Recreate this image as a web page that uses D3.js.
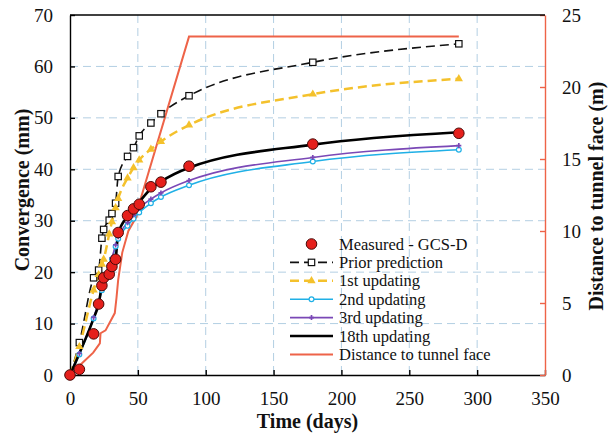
<!DOCTYPE html>
<html>
<head>
<meta charset="utf-8">
<script src="https://cdn.jsdelivr.net/npm/d3@7"></script>
<style>
    body { margin: 0; background: #fff; }
    svg text { font-family: "Liberation Serif", "Times New Roman", serif; fill: #111; }
</style>
</head>
<body>
<svg width="608" height="443"></svg>
<script>
// time of each reading (days)
let days = [0, 6.9, 17.4, 21.1, 23.5, 24.8, 28.9, 30.9, 33.6, 35.5, 42.4, 46.8, 51, 59.6, 67, 87.7, 178.9, 286.5];
// convergence (mm)
let measured = [0, 1.1, 8.0, 13.8, 17.4, 18.9, 19.6, 21.1, 22.5, 27.7, 31.0, 32.3, 33.2, 36.6, 37.5, 40.6, 44.9, 47.0];
let prior    = [0, 6.3, 18.9, 20.4, 26.6, 28.3, 30.1, 31.4, 33.4, 38.6, 42.5, 44.2, 46.5, 49.0, 50.8, 54.3, 60.8, 64.4];
let upd1     = [0, 5.5, 16.5, 19.5, 21.5, 22.5, 27.4, 29.8, 32.5, 34.3, 38.3, 40.3, 41.8, 43.9, 45.4, 48.6, 54.6, 57.6];
let upd2     = [0, 4.0, 11.0, 14.0, 16.5, 18.0, 21.0, 22.5, 25.0, 26.5, 29.0, 30.4, 31.6, 33.4, 34.6, 36.9, 41.5, 43.8];
let upd3     = [0, 4.2, 11.2, 14.2, 16.8, 18.3, 21.3, 22.8, 25.3, 26.9, 29.6, 31.1, 32.4, 34.2, 35.4, 37.8, 42.3, 44.6];
let upd18    = [0, 4.2, 11.0, 13.8, 17.4, 18.9, 19.8, 21.2, 22.6, 27.5, 30.8, 32.2, 33.6, 36.2, 37.6, 40.3, 44.8, 47.2];
// distance to tunnel face (m), right axis
let faceDays = [0, 9.8, 17.1, 22, 22.5, 26.2, 33, 34.3, 35.5, 38.5, 43, 49, 51, 87.7, 286.5];
let faceDist = [0, 0.9, 1.55, 2.2, 2.9, 3.1, 4.3, 5.4, 6.6, 8.5, 10.0, 11.0, 11.9, 23.5, 23.5];

let xTicks = [0, 50, 100, 150, 200, 250, 300, 350];
let yTicks = [0, 10, 20, 30, 40, 50, 60, 70];
let y2Ticks = [0, 5, 10, 15, 20, 25];
let seriesNames = ["Measured - GCS-D", "Prior prediction", "1st updating", "2nd updating",
    "3rd updating", "18th updating", "Distance to tunnel face"];

let svg = d3.select("svg"),
    plotL = 70, plotR = 545, plotT = 15, plotB = 375;

let red = "#ee6348", yellow = "#f4c12c", cyan = "#20b0e6", purple = "#7a48b6", grid = "#b3cfe3";

let x = d3.scaleLinear().domain([0, 350]).range([plotL, plotR]),
    y = d3.scaleLinear().domain([0, 70]).range([plotB, plotT]),
    y2 = d3.scaleLinear().domain([0, 25]).range([plotB, plotT]);

// gridlines
svg.append("g").selectAll("line")
    .data(xTicks.slice(1, -1))
    .enter().append("line")
    .attr("x1", d => x(d)).attr("x2", d => x(d))
    .attr("y1", plotT).attr("y2", plotB)
    .attr("stroke", grid).attr("stroke-dasharray", "8,5");
svg.append("g").selectAll("line")
    .data(yTicks.slice(1, -1))
    .enter().append("line")
    .attr("x1", plotL).attr("x2", plotR)
    .attr("y1", d => y(d)).attr("y2", d => y(d))
    .attr("stroke", grid).attr("stroke-dasharray", "8,5");

// axes
let xAxis = svg.append("g")
    .attr("transform", "translate(0," + plotB + ")")
    .call(d3.axisBottom(x).tickValues(xTicks).tickSizeInner(-5).tickSizeOuter(0).tickPadding(17));
let yAxis = svg.append("g")
    .attr("transform", "translate(" + plotL + ",0)")
    .call(d3.axisLeft(y).tickValues(yTicks).tickSizeInner(-5).tickSizeOuter(0).tickPadding(17));
let y2Axis = svg.append("g")
    .attr("transform", "translate(" + plotR + ",0)")
    .call(d3.axisRight(y2).tickValues(y2Ticks).tickSizeInner(-5).tickSizeOuter(0).tickPadding(17));

[xAxis, yAxis, y2Axis].forEach(a => {
    a.selectAll("text").style("font-size", "19px").attr("fill", "#111");
    a.select(".domain").attr("stroke-width", 1.4);
    a.selectAll(".tick line").attr("stroke-width", 1.4);
});
xAxis.selectAll(".domain, .tick line").attr("stroke", "#000");
yAxis.selectAll(".domain, .tick line").attr("stroke", "#000");
y2Axis.selectAll(".domain, .tick line").attr("stroke", red);

svg.append("line")
    .attr("x1", plotL).attr("x2", plotR).attr("y1", plotT).attr("y2", plotT)
    .attr("stroke", "#000").attr("stroke-width", 1.4);

// axis titles
svg.append("text")
    .attr("x", (plotL + plotR) / 2).attr("y", 428)
    .attr("text-anchor", "middle")
    .style("font-size", "20px").style("font-weight", "bold")
    .text("Time (days)");
svg.append("text")
    .attr("transform", "translate(29,190) rotate(-90)")
    .attr("text-anchor", "middle")
    .style("font-size", "20px").style("font-weight", "bold")
    .text("Convergence (mm)");
svg.append("text")
    .attr("transform", "translate(603,196) rotate(-90)")
    .attr("text-anchor", "middle")
    .style("font-size", "20px").style("font-weight", "bold")
    .text("Distance to tunnel face (m)");

// lines
let smooth = d3.line().x(d => x(d[0])).y(d => y(d[1])).curve(d3.curveMonotoneX);
let straight = d3.line().x(d => x(d[0])).y(d => y2(d[1]));

let pairs = vals => days.map((d, i) => [d, vals[i]]);

svg.append("path")
    .datum(faceDays.map((d, i) => [d, faceDist[i]]))
    .attr("d", straight)
    .attr("fill", "none").attr("stroke", red).attr("stroke-width", 2);

svg.append("path").datum(pairs(prior)).attr("d", smooth)
    .attr("fill", "none").attr("stroke", "#111").attr("stroke-width", 1.6).attr("stroke-dasharray", "9,5");
svg.append("path").datum(pairs(upd1)).attr("d", smooth)
    .attr("fill", "none").attr("stroke", yellow).attr("stroke-width", 2.5).attr("stroke-dasharray", "9,5");
svg.append("path").datum(pairs(upd2)).attr("d", smooth)
    .attr("fill", "none").attr("stroke", cyan).attr("stroke-width", 1.6);
svg.append("path").datum(pairs(upd3)).attr("d", smooth)
    .attr("fill", "none").attr("stroke", purple).attr("stroke-width", 1.6);
svg.append("path").datum(pairs(upd18)).attr("d", smooth)
    .attr("fill", "none").attr("stroke", "#000").attr("stroke-width", 2.6);

// markers
function squares(g, data) {
    g.selectAll(null).data(data).enter().append("rect")
        .attr("x", d => x(d[0]) - 3.2).attr("y", d => y(d[1]) - 3.2)
        .attr("width", 6.4).attr("height", 6.4)
        .attr("fill", "#fff").attr("stroke", "#111").attr("stroke-width", 1.2);
}
function triangles(g, data) {
    g.selectAll(null).data(data).enter().append("path")
        .attr("transform", d => "translate(" + x(d[0]) + "," + y(d[1]) + ")")
        .attr("d", d3.symbol(d3.symbolTriangle, 30))
        .attr("fill", yellow);
}
function rings(g, data) {
    g.selectAll(null).data(data).enter().append("circle")
        .attr("cx", d => x(d[0])).attr("cy", d => y(d[1])).attr("r", 2.4)
        .attr("fill", "#fff").attr("stroke", cyan).attr("stroke-width", 1.2);
}
function crosses(g, data) {
    g.selectAll(null).data(data).enter().append("path")
        .attr("transform", d => "translate(" + x(d[0]) + "," + y(d[1]) + ")")
        .attr("d", d3.symbol(d3.symbolCross, 14))
        .attr("fill", purple);
}
function dots(g, data) {
    g.selectAll(null).data(data).enter().append("circle")
        .attr("cx", d => x(d[0])).attr("cy", d => y(d[1])).attr("r", 5.3)
        .attr("fill", "#e5201c").attr("stroke", "#4a0a08").attr("stroke-width", 1);
}

let marks = svg.append("g");
squares(marks.append("g"), pairs(prior));
triangles(marks.append("g"), pairs(upd1));
rings(marks.append("g"), pairs(upd2));
crosses(marks.append("g"), pairs(upd3));
dots(marks.append("g"), pairs(measured));

// legend
let legend = svg.append("g");
let lx0 = 290, lx1 = 333, lxm = 311.5, ly = 244, lstep = 18.4;
seriesNames.forEach((name, i) => {
    let row = legend.append("g").attr("transform", "translate(0," + (ly + i * lstep) + ")");
    row.append("text").attr("x", 339).attr("y", 5.5).style("font-size", "16.5px").text(name);
    let line = row.append("line").attr("x1", lx0).attr("x2", lx1).attr("y1", 0).attr("y2", 0);
    if (i === 0) {
        line.remove();
        row.append("circle").attr("cx", lxm).attr("cy", 0).attr("r", 5.3)
            .attr("fill", "#e5201c").attr("stroke", "#4a0a08");
    } else if (i === 1) {
        line.attr("stroke", "#111").attr("stroke-width", 1.6).attr("stroke-dasharray", "9,5");
        row.append("rect").attr("x", lxm - 3.2).attr("y", -3.2).attr("width", 6.4).attr("height", 6.4)
            .attr("fill", "#fff").attr("stroke", "#111").attr("stroke-width", 1.2);
    } else if (i === 2) {
        line.attr("stroke", yellow).attr("stroke-width", 2.5).attr("stroke-dasharray", "9,5");
        row.append("path").attr("transform", "translate(" + lxm + ",0)")
            .attr("d", d3.symbol(d3.symbolTriangle, 30)).attr("fill", yellow);
    } else if (i === 3) {
        line.attr("stroke", cyan).attr("stroke-width", 1.6);
        row.append("circle").attr("cx", lxm).attr("cy", 0).attr("r", 2.4)
            .attr("fill", "#fff").attr("stroke", cyan).attr("stroke-width", 1.2);
    } else if (i === 4) {
        line.attr("stroke", purple).attr("stroke-width", 1.6);
        row.append("path").attr("transform", "translate(" + lxm + ",0)")
            .attr("d", d3.symbol(d3.symbolCross, 14)).attr("fill", purple);
    } else if (i === 5) {
        line.attr("stroke", "#000").attr("stroke-width", 2.6);
    } else {
        line.attr("stroke", red).attr("stroke-width", 2);
    }
});
</script>
</body>
</html>
